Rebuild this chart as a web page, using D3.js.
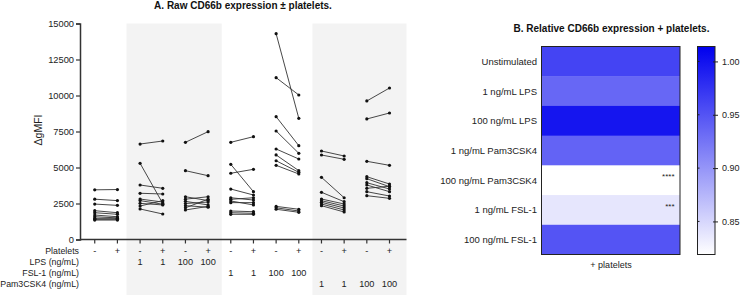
<!DOCTYPE html>
<html>
<head>
<meta charset="utf-8">
<script src="https://cdn.jsdelivr.net/npm/d3@7"></script>
<style>
  body { margin: 0; background: #fff; }
  svg { font-family: "Liberation Sans", Arial, sans-serif; }
</style>
</head>
<body>
<div id="chart"></div>
<script>
// panel A: paired donors, without / with platelets, per stimulation
const conditions = ["Unstimulated", "LPS 1", "LPS 100", "FSL-1 1", "FSL-1 100", "Pam3CSK4 1", "Pam3CSK4 100"];
const withoutPlatelets = [
    [3450, 2800, 2460, 2000, 1860, 1700, 1580, 1470, 1400, 1350],
    [6630, 5290, 3785, 3210, 2810, 2700, 2510, 2325, 2120],
    [6750, 4780, 2970, 2800, 2650, 2500, 2350, 2200, 2050],
    [6750, 5220, 4600, 3505, 2900, 2790, 2675, 2560, 1980, 1860, 1750],
    [14290, 11240, 8530, 7535, 6285, 5870, 5470, 5150, 2300, 2200, 2100],
    [6146, 5868, 4318, 3278, 2812, 2694, 2583, 2465, 2347],
    [9620, 8370, 5430, 4360, 4222, 3944, 3785, 3555, 3320, 3042]
];
const withPlateletsVals = [
    [3470, 2700, 2370, 1860, 1750, 1580, 1500, 1470, 1400, 1350],
    [6840, 2500, 3555, 3160, 2600, 2450, 2400, 2700, 1770],
    [7490, 4430, 2700, 2970, 2400, 2600, 2240, 2800, 2300],
    [7140, 3320, 4875, 3090, 2740, 2900, 2400, 2560, 1930, 1820, 1750],
    [8415, 10035, 6515, 5985, 5590, 4780, 4665, 4550, 2100, 1980, 1890],
    [5800, 5570, 2900, 2625, 2465, 2326, 2188, 2049, 1910],
    [10520, 8785, 5150, 3854, 3667, 3507, 3320, 3700, 3020, 2860]
];
const yTicks = [0, 2500, 5000, 7500, 10000, 12500, 15000];
const plateletLabels = ["-", "+", "-", "+", "-", "+", "-", "+", "-", "+", "-", "+", "-", "+"];
const lpsLabels = ["", "", "1", "1", "100", "100", "", "", "", "", "", "", "", ""];
const fslLabels = ["", "", "", "", "", "", "1", "1", "100", "100", "", "", "", ""];
const pamLabels = ["", "", "", "", "", "", "", "", "", "", "1", "1", "100", "100"];
const rowNames = ["Platelets", "LPS (ng/mL)", "FSL-1 (ng/mL)", "Pam3CSK4 (ng/mL)"];

// panel B: heatmap
const heatRows = ["Unstimulated", "1 ng/mL LPS", "100 ng/mL LPS", "1 ng/mL Pam3CSK4", "100 ng/mL Pam3CSK4", "1 ng/mL FSL-1", "100 ng/mL FSL-1"];
const heatValues = [0.962, 0.935, 0.998, 0.938, 0.819, 0.838, 0.950];
const heatStars = ["", "", "", "", "****", "***", ""];
const colorTicks = [0.85, 0.90, 0.95, 1.00];

const width = 740, height = 295;
const svg = d3.select("#chart").append("svg")
    .attr("width", width)
    .attr("height", height);

const x = d3.scaleLinear().domain([-0.65, 13.75]).range([80, 406.5]);
const y = d3.scaleLinear().domain([0, 15000]).range([239.5, 23.5]);

// shaded bands
[[1.4, 5.6], [9.6, 13.75]].forEach(b => {
    svg.append("rect")
        .attr("x", x(b[0]))
        .attr("y", y(15000))
        .attr("width", x(b[1]) - x(b[0]))
        .attr("height", height - y(15000))
        .attr("fill", "#f3f3f3");
});

svg.append("text")
    .attr("x", 243)
    .attr("y", 8.5)
    .attr("text-anchor", "middle")
    .style("font-size", "10px")
    .style("font-weight", "bold")
    .attr("fill", "#111")
    .text("A. Raw CD66b expression ± platelets.");

// y axis
const yAxis = svg.append("g")
    .attr("transform", `translate(${x(-0.65)},0)`)
    .call(d3.axisLeft(y).tickValues(yTicks).tickSize(4).tickPadding(2).tickFormat(d3.format("d")));
yAxis.select(".domain").attr("stroke", "#333").attr("stroke-width", 1.5);
yAxis.selectAll(".tick line").attr("stroke", "#333").attr("stroke-width", 1.2);
yAxis.selectAll("text").style("font-size", "9.3px").attr("fill", "#222");

svg.append("text")
    .attr("transform", "translate(41.5,130) rotate(-90)")
    .attr("text-anchor", "middle")
    .style("font-size", "10.5px")
    .attr("fill", "#222")
    .text("ΔgMFI");

// x axis
svg.append("line")
    .attr("x1", x(-0.65)).attr("x2", x(13.75))
    .attr("y1", y(0)).attr("y2", y(0))
    .attr("stroke", "#333").attr("stroke-width", 1.5);
d3.range(14).forEach(i => {
    svg.append("line")
        .attr("x1", x(i)).attr("x2", x(i))
        .attr("y1", y(0)).attr("y2", y(0) + 4)
        .attr("stroke", "#333").attr("stroke-width", 1.2);
});

const rowY = [254, 265, 275.5, 286.5];
[plateletLabels, lpsLabels, fslLabels, pamLabels].forEach((labels, r) => {
    svg.append("text")
        .attr("x", 79)
        .attr("y", rowY[r])
        .attr("text-anchor", "end")
        .style("font-size", "8.8px")
        .attr("fill", "#222")
        .text(rowNames[r]);
    svg.selectAll(null)
        .data(labels)
        .enter().append("text")
        .attr("x", (d, i) => x(i))
        .attr("y", rowY[r])
        .attr("text-anchor", "middle")
        .style("font-size", "9.2px")
        .attr("fill", "#222")
        .text(d => d);
});

// paired lines + points
conditions.forEach((c, g) => {
    const x0 = x(2 * g), x1 = x(2 * g + 1);
    const pairs = withoutPlatelets[g].map((v, i) => [v, withPlateletsVals[g][i]]);
    const grp = svg.append("g");
    grp.selectAll("line")
        .data(pairs)
        .enter().append("line")
        .attr("x1", x0).attr("x2", x1)
        .attr("y1", d => y(d[0])).attr("y2", d => y(d[1]))
        .attr("stroke", "#333").attr("stroke-width", 0.9);
    grp.selectAll("circle.a")
        .data(pairs)
        .enter().append("circle")
        .attr("cx", x0).attr("cy", d => y(d[0])).attr("r", 1.6).attr("fill", "#111");
    grp.selectAll("circle.b")
        .data(pairs)
        .enter().append("circle")
        .attr("cx", x1).attr("cy", d => y(d[1])).attr("r", 1.6).attr("fill", "#111");
});

// ---- panel B ----
const hx0 = 541.5, hx1 = 680, hy0 = 46.5, hy1 = 254.5;
const rowScale = d3.scaleBand().domain(heatRows).range([hy0, hy1]);
const cDomain = [0.819, 1.014];
const color = d3.scaleLinear().domain(cDomain).range(["#ffffff", "#0000ee"]);

svg.append("text")
    .attr("x", 611.5)
    .attr("y", 32)
    .attr("text-anchor", "middle")
    .style("font-size", "10px")
    .style("font-weight", "bold")
    .attr("fill", "#111")
    .text("B. Relative CD66b expression + platelets.");

svg.selectAll("rect.cell")
    .data(heatRows)
    .enter().append("rect")
    .attr("x", hx0)
    .attr("y", d => rowScale(d))
    .attr("width", hx1 - hx0)
    .attr("height", (d, i) => rowScale.bandwidth() + (i < heatRows.length - 1 ? 0.5 : 0))
    .attr("fill", (d, i) => color(heatValues[i]));

svg.selectAll("text.row")
    .data(heatRows)
    .enter().append("text")
    .attr("x", 537)
    .attr("y", d => rowScale(d) + rowScale.bandwidth() / 2 + 3.5)
    .attr("text-anchor", "end")
    .style("font-size", "9.5px")
    .attr("fill", "#222")
    .text(d => d);

svg.selectAll("text.star")
    .data(heatRows)
    .enter().append("text")
    .attr("x", 674.5)
    .attr("y", d => rowScale(d) + 14)
    .attr("text-anchor", "end")
    .style("font-size", "8px")
    .attr("fill", "#222")
    .text((d, i) => heatStars[i]);

svg.append("rect")
    .attr("x", hx0).attr("y", hy0)
    .attr("width", hx1 - hx0).attr("height", hy1 - hy0)
    .attr("fill", "none").attr("stroke", "#222").attr("stroke-width", 1);

svg.append("text")
    .attr("x", 611)
    .attr("y", 267.5)
    .attr("text-anchor", "middle")
    .style("font-size", "9px")
    .attr("fill", "#222")
    .text("+ platelets");

// colour bar
const cbX = 697.5, cbW = 17.5;
const cy = d3.scaleLinear().domain(cDomain).range([hy1, hy0]);
const grad = svg.append("defs").append("linearGradient")
    .attr("id", "cbar")
    .attr("x1", "0").attr("x2", "0").attr("y1", "1").attr("y2", "0");
grad.append("stop").attr("offset", "0%").attr("stop-color", color(cDomain[0]));
grad.append("stop").attr("offset", "100%").attr("stop-color", color(cDomain[1]));
svg.append("rect")
    .attr("x", cbX).attr("y", hy0)
    .attr("width", cbW).attr("height", hy1 - hy0)
    .attr("fill", "url(#cbar)")
    .attr("stroke", "#222").attr("stroke-width", 1);

const cAxis = svg.append("g")
    .attr("transform", `translate(${cbX + cbW},0)`)
    .call(d3.axisRight(cy).tickValues(colorTicks).tickSize(3).tickPadding(4).tickFormat(d3.format(".2f")));
cAxis.select(".domain").remove();
cAxis.selectAll(".tick line").attr("x1", -2).attr("stroke", "#222");
cAxis.selectAll("text").style("font-size", "9px").attr("fill", "#222");
svg.selectAll(null)
    .data(colorTicks)
    .enter().append("line")
    .attr("x1", cbX).attr("x2", cbX + 2)
    .attr("y1", d => cy(d)).attr("y2", d => cy(d))
    .attr("stroke", "#222");
</script>
</body>
</html>
